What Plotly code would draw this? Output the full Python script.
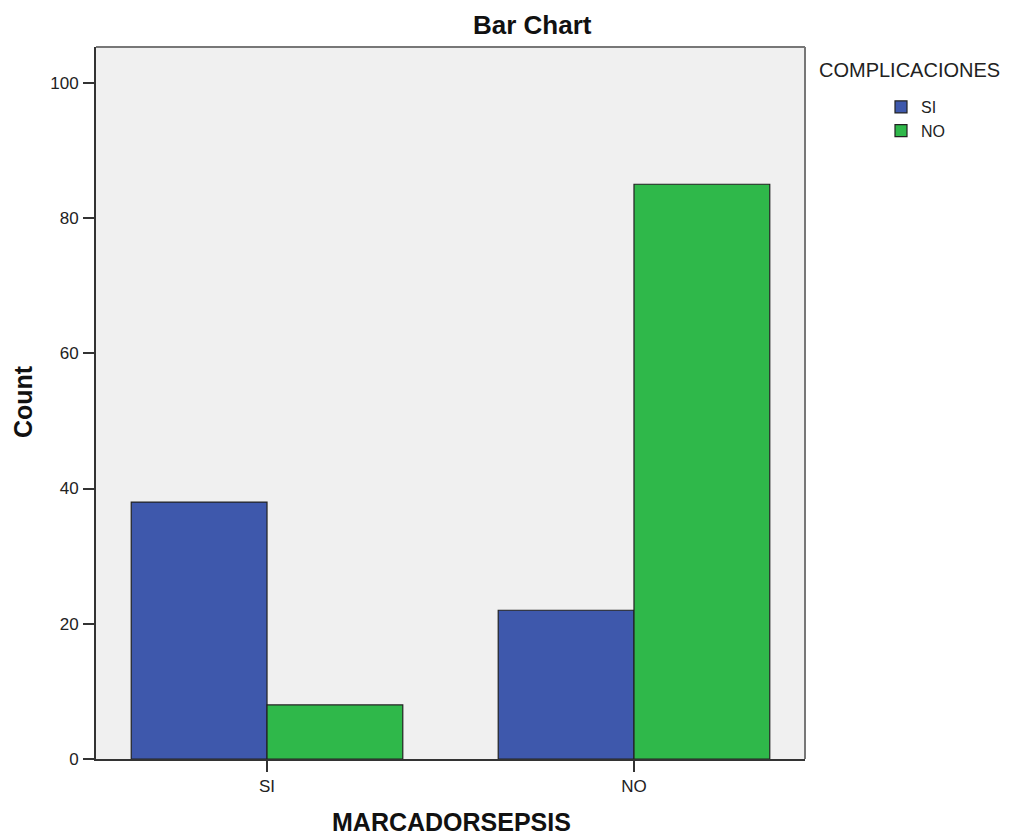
import plotly.graph_objects as go

# ---- data ----
categories = ["SI", "NO"]                 # MARCADORSEPSIS
series_names = ["SI", "NO"]               # COMPLICACIONES
values_si = [38, 22]
values_no = [8, 85]
colors = ["#3e58ac", "#2fb84a"]
y_ticks = [0, 20, 40, 60, 80, 100]

series_values = [values_si, values_no]

# figure size (page has 8px body margin)
W, H = 1010, 829
L, R, T, B = 88, 213, 39, 78
PW, PH = W - L - R, H - T - B
OFF = 8


def px(page_x):
    return (page_x - OFF - L) / PW


def py(page_y):
    return 1 - (page_y - OFF - T) / PH


fig = go.Figure()
for name, vals, col in zip(series_names, series_values, colors):
    fig.add_trace(go.Bar(
        x=categories, y=vals, name=name,
        marker=dict(color=col, line=dict(color="#222222", width=1.2)),
    ))

font = "Liberation Sans, Arial, sans-serif"
fig.update_layout(
    width=W, height=H,
    margin=dict(l=L, r=R, t=T, b=B),
    paper_bgcolor="white",
    plot_bgcolor="#f0f0f0",
    barmode="group",
    bargap=0.26,
    bargroupgap=0,
    font=dict(family=font, size=17, color="#222222"),
    showlegend=True,
    legend=dict(
        x=px(881), y=py(90),
        xanchor="left", yanchor="top",
        bgcolor="rgba(0,0,0,0)",
        font=dict(size=16, color="#222222"),
        itemwidth=30, tracegroupgap=0,
    ),
    annotations=[
        dict(text="<b>Bar Chart</b>", xref="paper", yref="paper",
             x=px(532), y=py(25),
             xanchor="center", yanchor="middle", showarrow=False,
             font=dict(size=26, color="#111111")),
        dict(text="<b>MARCADORSEPSIS</b>", xref="paper", yref="paper",
             x=px(451), y=py(822),
             xanchor="center", yanchor="middle", showarrow=False,
             font=dict(size=25, color="#111111")),
        dict(text="<b>Count</b>", xref="paper", yref="paper",
             x=px(23), y=py(402), textangle=-90,
             xanchor="center", yanchor="middle", showarrow=False,
             font=dict(size=25, color="#111111")),
        dict(text="COMPLICACIONES", xref="paper", yref="paper",
             x=px(817), y=py(70),
             xanchor="left", yanchor="middle", showarrow=False,
             font=dict(size=20, color="#222222")),
    ],
    shapes=[
        dict(type="line", xref="paper", yref="paper", x0=0, x1=1, y0=1, y1=1,
             line=dict(color="#777777", width=2)),
        dict(type="line", xref="paper", yref="paper", x0=1, x1=1, y0=0, y1=1,
             line=dict(color="#777777", width=2)),
    ],
    xaxis=dict(
        range=[-0.466, 1.466],
        showline=True, linecolor="#333333", linewidth=2,
        ticks="outside", ticklen=11, tickcolor="#333333", tickwidth=2,
        showgrid=False, zeroline=False,
        tickfont=dict(size=17, color="#222222"),
    ),
    yaxis=dict(
        range=[0, 105.3],
        tickvals=y_ticks,
        showline=True, linecolor="#333333", linewidth=2,
        ticks="outside", ticklen=11, tickcolor="#333333", tickwidth=1.5,
        ticklabelstandoff=1,
        showgrid=False, zeroline=False,
        tickfont=dict(size=17, color="#222222"),
    ),
)

fig.write_html("out.html")
